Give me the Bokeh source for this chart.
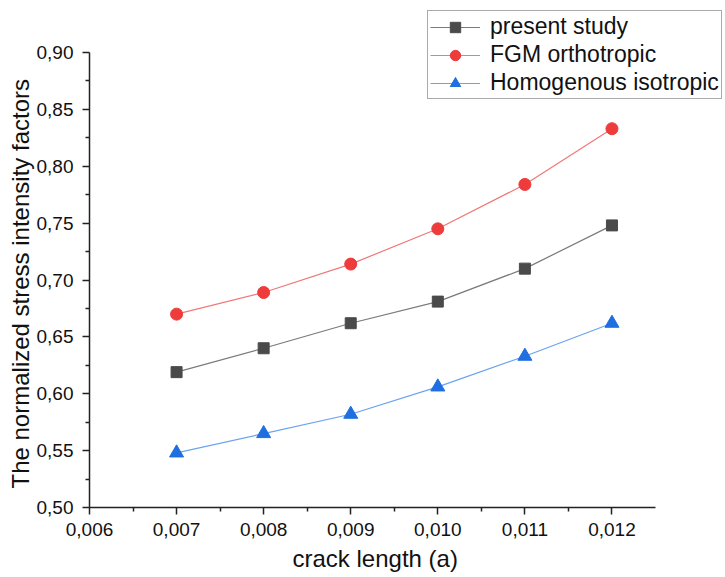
from bokeh.plotting import figure
from bokeh.models import Range1d, FixedTicker, Legend, LegendItem, Title
from bokeh.embed import file_html
from bokeh.resources import INLINE

crack_length = [0.007, 0.008, 0.009, 0.010, 0.011, 0.012]
present_study = [0.619, 0.640, 0.662, 0.681, 0.710, 0.748]
fgm_orthotropic = [0.670, 0.689, 0.714, 0.745, 0.784, 0.833]
homogenous_isotropic = [0.548, 0.565, 0.582, 0.606, 0.633, 0.662]

x_ticks = [0.006, 0.007, 0.008, 0.009, 0.010, 0.011, 0.012]
x_tick_labels = ["0,006", "0,007", "0,008", "0,009", "0,010", "0,011", "0,012"]
y_ticks = [0.50, 0.55, 0.60, 0.65, 0.70, 0.75, 0.80, 0.85, 0.90]
y_tick_labels = ["0,50", "0,55", "0,60", "0,65", "0,70", "0,75", "0,80", "0,85", "0,90"]
x_title = "crack length (a)"
y_title = "The normalized stress intensity factors"

FONT = "Liberation Sans"

# axis extents (the frame is larger so the legend can sit above/right of the axes)
x_lo, x_hi = 0.006, 0.0125
y_lo, y_hi = 0.50, 0.90

W, H = 725, 577
left, bottom = 89, 70
ax_w, ax_h = 566, 455  # pixel length of the drawn axes
frame_w, frame_h = W - left, H - bottom
x_end = x_lo + frame_w * (x_hi - x_lo) / ax_w
y_end = y_lo + frame_h * (y_hi - y_lo) / ax_h

p = figure(width=W, height=H, output_backend="svg", toolbar_location=None,
           x_range=Range1d(x_lo, x_end), y_range=Range1d(y_lo, y_end),
           min_border_left=left, min_border_right=0, min_border_top=0,
           min_border_bottom=bottom)
p.outline_line_color = None
p.grid.visible = False
p.background_fill_color = "white"

for ax, ticks, labels, minors, bnds in ((p.xaxis[0], x_ticks, x_tick_labels,
                                         [0.0065 + 0.001 * i for i in range(6)], (x_lo, x_hi)),
                                        (p.yaxis[0], y_ticks, y_tick_labels,
                                         [0.525 + 0.05 * i for i in range(8)], (y_lo, y_hi))):
    ax.bounds = bnds
    ax.ticker = FixedTicker(ticks=ticks, minor_ticks=minors)
    ax.major_label_overrides = {t: l for t, l in zip(ticks, labels)}
    ax.axis_line_color = "#222222"
    ax.axis_line_width = 1.5
    ax.major_tick_line_color = "#222222"
    ax.minor_tick_line_color = "#222222"
    ax.major_tick_line_width = 1.5
    ax.minor_tick_line_width = 1.5
    ax.major_tick_out = 7
    ax.major_tick_in = 0
    ax.minor_tick_out = 4
    ax.minor_tick_in = 0
    ax.major_label_text_font = FONT
    ax.major_label_text_font_size = "19px"
    ax.major_label_text_color = "#111111"

p.xaxis.major_label_standoff = 8
p.yaxis.major_label_standoff = 9

# axis titles, positioned on the drawn axes (not the enlarged frame)
p.add_layout(Title(text=x_title, align="left", offset=203,
                   text_font=FONT, text_font_size="24px", text_font_style="normal",
                   text_color="#111111", standoff=8), "below")
p.add_layout(Title(text=y_title, align="left", offset=19,
                   text_font=FONT, text_font_size="24px", text_font_style="normal",
                   text_color="#111111", standoff=0), "left")

l1 = p.line(crack_length, present_study, line_color="#7a7a7a", line_width=1.2)
m1 = p.scatter(crack_length, present_study, marker="square", size=11,
               fill_color="#4a4a4a", line_color="#4a4a4a")
l2 = p.line(crack_length, fgm_orthotropic, line_color="#f07878", line_width=1.2)
m2 = p.scatter(crack_length, fgm_orthotropic, marker="circle", size=12,
               fill_color="#ee3b3b", line_color="#ee3b3b")
l3 = p.line(crack_length, homogenous_isotropic, line_color="#6aa4f0", line_width=1.2)
m3 = p.scatter(crack_length, homogenous_isotropic, marker="triangle", size=14,
               fill_color="#1f6fe0", line_color="#1f6fe0")

legend = Legend(items=[
    LegendItem(label="present study", renderers=[l1, m1]),
    LegendItem(label="FGM orthotropic", renderers=[l2, m2]),
    LegendItem(label="Homogenous isotropic", renderers=[l3, m3]),
], location=(338, 408))
legend.label_text_font = FONT
legend.label_text_font_size = "23px"
legend.label_text_color = "#111111"
legend.border_line_color = "#555555"
legend.border_line_width = 1
legend.glyph_width = 50
legend.glyph_height = 26
legend.label_height = 26
legend.spacing = 1
legend.padding = 2
legend.margin = 0
legend.label_standoff = 10
legend.background_fill_alpha = 1.0
p.add_layout(legend, "center")

open("out.html", "w").write(file_html(p, INLINE))
